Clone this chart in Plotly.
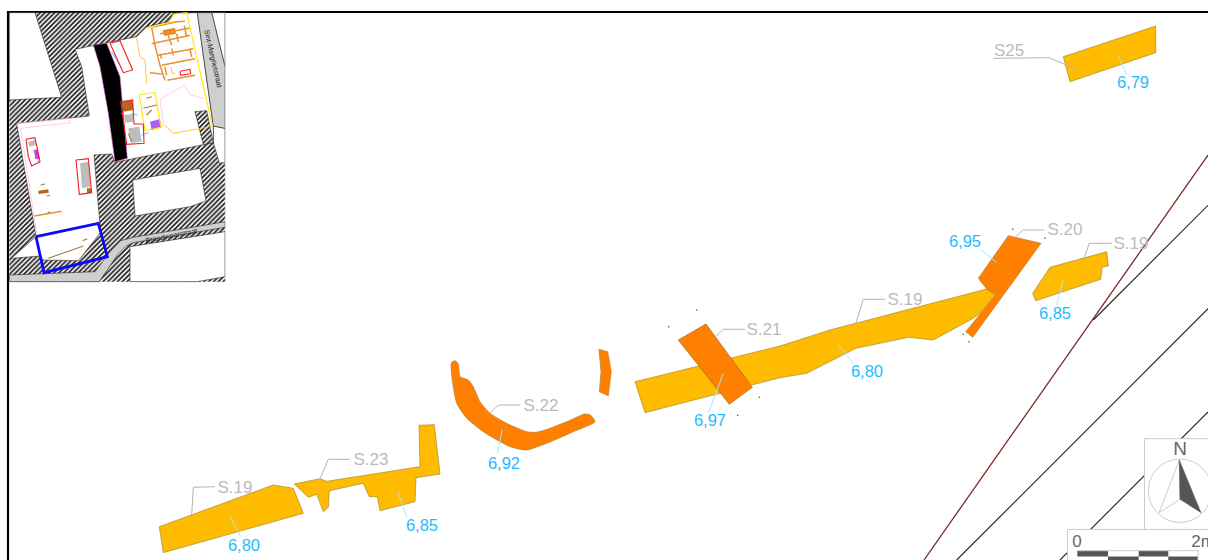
import plotly.graph_objects as go

# ---------- main plan, in picture units ----------
AMBER = "#ffbb00"; ORANGE = "#ff8000"; EDGE = "#a98a2a"
s19_west = [(159.3,526.7),(273.3,485),(293.3,488.3),(303.3,513.3),(163.3,552.7)]
s23 = [(294.3,484),(320,478.7),(326.7,481.3),(420,466.7),(419,425.3),(434.3,424.7),(440,474),(416,477.7),(415,501.7),(380,510.7),(377.3,496.7),(369.3,496.7),(363.3,483.3),(329.3,490.7),(328.3,507.3),(323.3,511.7),(316.7,494.3),(308.3,497.3)]
s22 = [(451,366),(452,362),(455,360.7),(458,363.3),(459,370),(460,376.7),(468.3,380),(473.3,386.7),(480,401.7),(490,413.3),(506.7,423.3),(526.7,431.7),(536,432.3),(545,430),(566.7,421.7),(585,414),(590.7,415.3),(595,421.7),(573.3,431.7),(546.7,443.3),(526.7,450),(510,446.7),(483.3,431.7),(466.7,418.3),(456.7,403.3),(452.7,383.3)]
s22_arc = [(599,349.3),(607.7,351.7),(611.3,371.7),(608.3,395.7),(599.3,391.7),(601,371.7)]
s19_mid = [(635,381.7),(780,346),(830,330),(986.7,289),(995,295),(980,313.3),(973.3,318.3),(933.3,340),(908.3,337.3),(856,348.3),(806.7,373.3),(780,377.7),(645,412.7)]
s21 = [(706,324),(752.3,387.3),(729.3,404.3),(678.3,340)]
s20 = [(1008.3,235.7),(1041,243.3),(972.7,337.3),(965.7,331.7),(995.7,295),(986.7,289),(978.3,278.3)]
s19_east = [(1050,267.3),(1106.7,251.7),(1108.3,266),(1102,267.3),(1100.7,279.3),(1035.7,300.7),(1032.7,293.3)]
s25 = [(1063.3,56.7),(1155.7,26),(1155.7,52.7),(1070,81.7)]

gray_leaders = [
    [(191.7,515),(193.3,487.3),(215,486.7)],
    [(320,478.7),(328.3,459.3),(350,459.3)],
    [(490,413.3),(498.3,405),(520,405)],
    [(716,336),(723.3,329.3),(745,329.3)],
    [(856,322.7),(863.3,299.3),(885,299.3)],
    [(1016,236.7),(1022.7,230),(1044,230)],
    [(1084,258.3),(1089.3,243.3),(1111.7,243.3)],
    [(993.3,58.3),(1049.3,57.7),(1077.3,70)],
]
blue_leaders = [
    [(230,516.7),(240.7,536.7)],
    [(398.3,493.3),(406.7,516.7)],
    [(502.3,430),(497.3,453.3)],
    [(723.3,373.3),(708.3,413.3)],
    [(838.3,345),(853.3,363.3)],
    [(980,249.3),(996.7,262.3)],
    [(1063.3,280),(1056.7,305)],
    [(1118.3,55),(1126.7,75)],
]
feature_names = ["S.19","S.23","S.22","S.21","S.19","S.20","S.19","S25"]
feature_x = [235,371,541,764,905,1065,1131,1009]
feature_y = [489,461,407,331,301,231,245,52]
level_names = ["6,80","6,85","6,92","6,97","6,80","6,95","6,85","6,79"]
level_x = [244,422,504,710,867,965,1055,1133]
level_y = [547,527,465,422,373,243,315,84]
survey_dots = [(668.7,326.7),(696.7,310),(759.3,397.3),(737.7,415.3),(1012.7,229.3),(1045,238.3),(963.3,334.3),(969,341.7)]

brown_line = [(924,560),(1208,155)]
black_lines = [[(1093.3,320),(1208,205.3)],[(956.7,560),(1208,308.7)],[(1060,560),(1208,412)]]
compass_panel = [(1144.5,438.7),(1209,438.7),(1209,529.5),(1144.5,529.5)]
scale_panel = [(1067.5,529.5),(1209,529.5),(1209,561),(1067.5,561)]
compass_circle_centre = (1180,490.7); compass_circle_r = 31.7
needle_dark = [(1179.3,460),(1201,512.7),(1180,499.3)]
needle_light = [(1179.3,460),(1159,512.7),(1180,499.3)]
scale_top = [(1077.3,1108),(1138.7,1168.3)]
scale_bottom = [(1108,1138.7),(1168.3,1198)]

# ---------- location inset, in its own units ----------
inset_hatch = [(28,38),(675,38),(675,845),(28,845)]
hatch_notch = [(585,335),(620,332),(640,428),(610,434)]
white_nw = [(28,38),(105,38),(185,292),(28,300)]
white_yard = [(225,148),(410,110),(440,80),(505,65),(520,40),(592,38),(640,378),(640,428),(345,487),(335,462),(282,465),(298,668),(302,697),(235,782),(128,780),(122,768),(34,775),(108,710),(50,370),(268,348),(245,200)]
white_ne = [(635,38),(675,38),(675,200)]
white_block = [(398,540),(600,505),(618,603),(570,620),(405,648)]
white_corner = [(640,378),(675,385),(675,487),(658,490),(640,428)]
white_south = [(390,740),(675,695),(675,830),(592,845),(390,845)]
road_east = [(592,38),(635,38),(675,200),(675,385),(640,378)]
road_south = [(675,665),(675,682),(400,728),(378,738),(352,765),(298,845),(28,845),(28,825),(285,815),(330,755),(362,722),(400,712)]
black_strip = [(280,135),(320,130),(360,230),(382,475),(345,485),(325,340),(300,200)]
magenta_blob = [(103,450),(112,448),(120,478),(105,476)]
purple_box = [(450,365),(480,357),(485,382),(455,390)]
gray_blocks = [[(240,490),(266,485),(272,560),(246,565)],[(372,345),(398,342),(400,365),(375,368)],[(385,385),(418,380),(425,425),(392,428)],[(84,425),(105,420),(108,435),(88,440)]]
brown_blocks = [[(366,305),(398,300),(400,330),(370,335)],[(260,565),(275,565),(275,578),(262,580)],[(115,572),(145,568),(146,578),(116,582)]]
orange_blocks = [[(488,91),(525,83),(528,101),(492,108)]]
red_outlines = [[(330,130),(360,122),(398,210),(370,218),(330,130)],[(78,418),(105,413),(120,485),(95,498),(85,470),(78,418)],[(228,480),(265,476),(275,578),(238,583),(228,480)],[(362,305),(398,300),(402,372),(430,372),(432,430),(380,433),(362,305)],[(540,214),(570,208),(572,221),(542,226),(540,214)]]
orange_walls = [[(460,81),(525,66),(555,64)],[(455,81),(465,136),(480,196),(495,241)],[(480,101),(570,84)],[(455,131),(570,106)],[(475,166),(580,146)],[(485,196),(585,176)],[(450,218),(485,222)],[(502,241),(585,226)],[(505,106),(515,136)],[(530,101),(535,126)],[(553,76),(560,111)],[(515,146),(520,166)],[(480,161),(485,176)],[(570,146),(575,171)],[(495,201),(500,226)],[(103,648),(185,634)]]
yellow_lines = [[(438,85),(505,68),(525,42),(560,38),(637,378)],[(418,285),(465,277),(483,382),(435,392),(418,285)]]
gold_lines = [[(410,115),(420,170),(435,180),(440,250)],[(637,378),(600,386),(520,400),(490,372)],[(513,201),(517,221),(525,219)]]
pink_lines = [[(480,298),(555,255),(570,285),(612,295)],[(480,298),(490,370)],[(210,355),(210,368),(62,385),(110,700)],[(50,370),(210,355)]]
blue_details = [[(395,340),(412,345)],[(425,405),(445,398)],[(335,155),(365,205)],[(100,450),(118,490)],[(362,340),(372,340)]]
brown_scratches = [[(440,295),(455,290)],[(430,325),(470,315)],[(440,345),(455,330)],[(145,775),(175,765),(215,752),(250,738)],[(248,722),(262,716)],[(122,555),(135,552)],[(140,588),(150,586)],[(143,638),(150,636)],[(385,400),(395,425)]]
blue_frame = [(108,710),(295,670),(322,770),(132,818),(108,710)]
street_names = ["Sint-Margrietstraat","Brandweerstraat"]
street_x = [640,515]; street_y = [175,705]; street_angle = [77,-11]
inset_frame_edge = [(676,38),(676,845)]


fig = go.Figure()

def xs(p): return [a for a,_ in p]
def ys(p): return [b for _,b in p]

def line(p, color, width, axis="", dash=None):
    fig.add_trace(go.Scatter(x=xs(p), y=ys(p), mode="lines", hoverinfo="skip", showlegend=False,
        line=dict(color=color, width=width, dash=dash), xaxis="x"+axis, yaxis="y"+axis))

def poly(p, fill, edge=None, width=0.7, axis="", pattern=None, smooth=False):
    kw = dict(fillpattern=pattern) if pattern else {}
    ln = dict(color=edge or fill, width=width if edge else 0)
    if smooth:
        ln.update(shape="spline", smoothing=0.6)
    fig.add_trace(go.Scatter(x=xs(p)+[p[0][0]], y=ys(p)+[p[0][1]], mode="lines", fill="toself", fillcolor=fill,
        hoverinfo="skip", showlegend=False, line=ln, xaxis="x"+axis, yaxis="y"+axis, **kw))

HATCH = dict(shape="/", size=3.4, solidity=0.5, fgcolor="#1c1c1c", bgcolor="white", fillmode="replace")

# background lines
line(brown_line, "#7a2a2a", 1.3)
for l in black_lines:
    line(l, "#222222", 1.1)
# legend panels
poly(compass_panel, "white", "#cccccc", 1)
poly(scale_panel, "white", "#cccccc", 1)
# features
for p in (s19_west, s23, s19_east, s25):
    poly(p, AMBER, EDGE)
poly(s20, ORANGE, "#c08030")
poly(s22, ORANGE, "#c08030", smooth=True)
poly(s22_arc, ORANGE, "#c08030")
poly(s19_mid, AMBER, EDGE)
poly(s21, ORANGE, "#a06a20")
for l in gray_leaders:
    line(l, "#b4b4b4", 1)
for l in blue_leaders:
    line(l, "#a8e6ff", 1)
fig.add_trace(go.Scatter(x=xs(survey_dots), y=ys(survey_dots), mode="markers", hoverinfo="skip", showlegend=False,
    marker=dict(size=1.6, color="#555555")))
fig.add_trace(go.Scatter(x=feature_x, y=feature_y, text=feature_names, mode="text", hoverinfo="skip", showlegend=False,
    textfont=dict(family="Liberation Sans", size=17, color="#bbbbbb")))
fig.add_trace(go.Scatter(x=level_x, y=level_y, text=level_names, mode="text", hoverinfo="skip", showlegend=False,
    textfont=dict(family="Liberation Sans", size=16.5, color="#1cbcff")))
# compass
fig.add_shape(type="circle", xref="x", yref="y", layer="above",
    x0=compass_circle_centre[0]-compass_circle_r, x1=compass_circle_centre[0]+compass_circle_r,
    y0=compass_circle_centre[1]-compass_circle_r, y1=compass_circle_centre[1]+compass_circle_r,
    line=dict(color="#cccccc", width=1))
poly(needle_light, "white", "#cccccc", 1)
poly(needle_dark, "#555555", "#555555", 0.5)
fig.add_trace(go.Scatter(x=[1180,1077,1203], y=[450,543,543], text=["N","0","2m"], mode="text", hoverinfo="skip", showlegend=False,
    textfont=dict(family="Liberation Sans", size=[19,17,17], color="#666666")))
# scale bar
for a,b in scale_top:
    poly([(a,550.7),(b,550.7),(b,556.5),(a,556.5)], "#555555")
for a,b in scale_bottom:
    poly([(a,556.5),(b,556.5),(b,563),(a,563)], "#555555")
line([(1077.3,550.7),(1198,550.7),(1198,561)], "#cccccc", 1)
# main frame
line([(1208,12),(8,12),(8,560)], "#000000", 2.2)

# inset
A = "2"
poly(inset_hatch, "white", None, axis=A, pattern=HATCH)
for p in (white_nw, white_ne, white_block, white_corner, white_south):
    poly(p, "white", "#222222", 0.6, axis=A)
poly(white_yard, "white", "#3a2020", 0.6, axis=A)
poly(hatch_notch, "white", "#3a2020", 0.6, axis=A, pattern=HATCH)
poly(road_east, "#cfcfcf", "#222222", 0.6, axis=A)
poly(road_south, "#cfcfcf", "#222222", 0.6, axis=A)
poly(black_strip, "#000000", "#d060d0", 0.6, axis=A)
for p in gray_blocks:
    poly(p, "#bdbdbd", axis=A)
for p in brown_blocks:
    poly(p, "#b8651a", axis=A)
for p in orange_blocks:
    poly(p, "#ee8a1c", axis=A)
poly(magenta_blob, "#ff20d0", axis=A)
poly(purple_box, "#b060f0", axis=A)
for l in pink_lines:
    line(l, "#ffb4ee", 0.7, A)
for l in orange_walls:
    line(l, "#e8912f", 1.5, A)
for l in gold_lines:
    line(l, "#ffc02a", 0.9, A)
for l in yellow_lines:
    line(l, "#ffe600", 1.1, A)
for l in blue_details:
    line(l, "#4aa8f0", 0.8, A)
for l in brown_scratches:
    line(l, "#a87a3a", 1.1, A)
for l in red_outlines:
    line(l, "#f02020", 1.1, A)
line(blue_frame, "#0a0aff", 2.8, A)
line(inset_frame_edge, "#dddddd", 1, A)
for t,x,y,a in zip(street_names, street_x, street_y, street_angle):
    fig.add_annotation(text=t, x=x, y=y, xref="x2", yref="y2", textangle=a, showarrow=False,
        font=dict(family="Liberation Sans", size=7.2, color="#222222"))

fig.update_layout(
    width=1208, height=560, autosize=False, margin=dict(l=0, r=0, t=0, b=0),
    paper_bgcolor="white", plot_bgcolor="rgba(0,0,0,0)", showlegend=False,
    xaxis=dict(range=[0,1208], visible=False, domain=[0,1], fixedrange=True),
    yaxis=dict(range=[560,0], visible=False, domain=[0,1], fixedrange=True),
    xaxis2=dict(range=[0,720], visible=False, domain=[0,240/1208], anchor="y2", fixedrange=True),
    yaxis2=dict(range=[870,0], visible=False, domain=[1-290/560,1], anchor="x2", fixedrange=True),
)
fig.write_html("out.html", config=dict(displayModeBar=False),
    post_script="document.body.style.margin='0';document.documentElement.style.overflow='hidden';")
